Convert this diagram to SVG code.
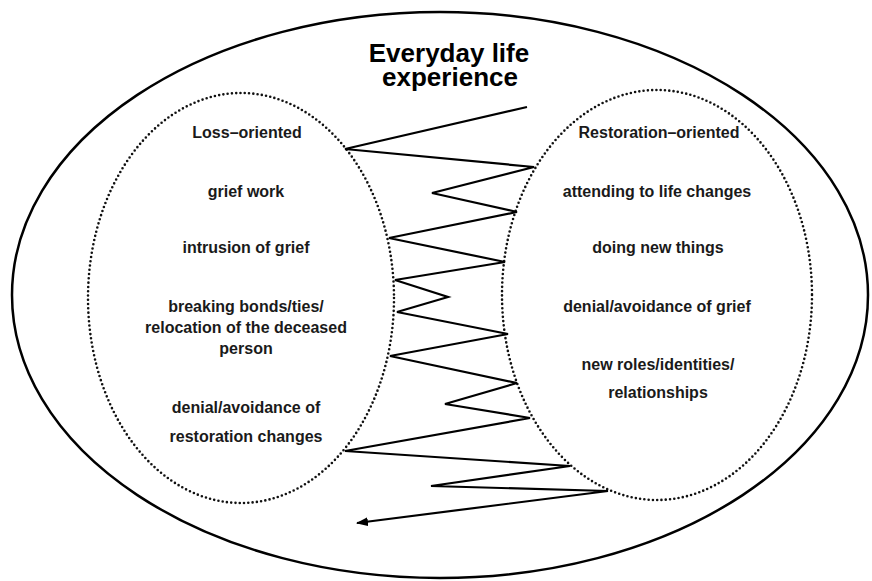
<svg xmlns="http://www.w3.org/2000/svg" width="872" height="581" viewBox="0 0 872 581">
<style>
.outer{fill:none;stroke:#000;stroke-width:2.5}
.dotted{fill:none;stroke:#111;stroke-width:2.6;stroke-dasharray:0 4.3;stroke-linecap:round}
.t{font-family:"Liberation Sans",Arial,sans-serif;font-weight:bold;font-size:16px;fill:#1a1a1a;text-anchor:middle}
.title{font-family:"Liberation Sans",Arial,sans-serif;font-weight:bold;font-size:26px;fill:#000;text-anchor:middle}
.zig{fill:none;stroke:#000;stroke-width:2.2;stroke-linejoin:miter}
</style>
<defs>
<marker id="arrow" markerUnits="userSpaceOnUse" markerWidth="12" markerHeight="9" refX="11" refY="4.5" orient="auto">
<path d="M0,0 L12,4.5 L0,9 z" fill="#000"/>
</marker>
</defs>
<rect width="872" height="581" fill="#fff"/>
<g id="everyday-life">
<ellipse class="outer" cx="440" cy="295" rx="428" ry="283"/>
<text class="title" x="449" y="62">Everyday life</text>
<text class="title" x="450" y="86">experience</text>
</g>
<g id="loss-oriented">
<ellipse class="dotted" cx="241" cy="298" rx="153" ry="205"/>
<text class="t" x="247" y="138">Loss–oriented</text>
<text class="t" x="246" y="197">grief work</text>
<text class="t" x="246" y="253">intrusion of grief</text>
<text class="t" x="246" y="312">breaking bonds/ties/</text>
<text class="t" x="246" y="333">relocation of the deceased</text>
<text class="t" x="246" y="354">person</text>
<text class="t" x="246" y="413">denial/avoidance of</text>
<text class="t" x="246" y="442">restoration changes</text>
</g>
<g id="restoration-oriented">
<ellipse class="dotted" cx="657" cy="295" rx="155" ry="205"/>
<text class="t" x="659" y="138">Restoration–oriented</text>
<text class="t" x="657" y="197">attending to life changes</text>
<text class="t" x="658" y="253">doing new things</text>
<text class="t" x="657" y="312">denial/avoidance of grief</text>
<text class="t" x="658" y="370">new roles/identities/</text>
<text class="t" x="658" y="398">relationships</text>
</g>
<g id="connectors">
<polyline class="zig" marker-end="url(#arrow)" points="527,107 345,149 534,167 432,193 517,212 389,238 505,262 395,280 448,297 397,312 508,334 390,356 517,383 445,404 530,418 345,451 570,466 431,486 608,491 357,523"/>
</g>
</svg>
